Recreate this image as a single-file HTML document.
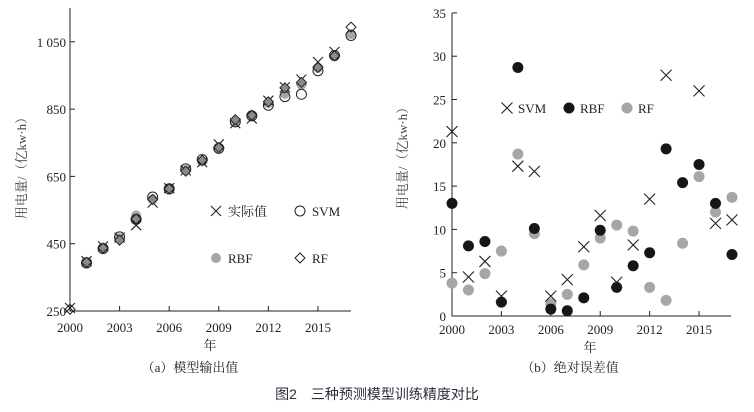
<!DOCTYPE html><html><head><meta charset="utf-8"><style>body{margin:0;background:#fff}svg{display:block}</style></head><body>
<svg id="s" width="754" height="412" xmlns="http://www.w3.org/2000/svg" font-family="Liberation Serif, Noto Serif CJK SC, serif" font-size="13" fill="#222"></svg>
<script>
const s=document.getElementById('s');let h='';
const act=[259,398,442,468,505,572,615,668,692,745,808,822,875,915,938,990,1020,1080];
const eS=[21.3,4.5,6.3,2.3,17.3,16.7,2.3,4.2,8,11.6,3.9,8.2,13.5,27.8,44,26,10.7,11.1];
const eR=[13,8.1,8.6,1.6,28.7,10.1,0.8,0.6,2.1,9.9,3.3,5.8,7.3,19.3,15.4,17.5,13,7.1];
const eF=[3.8,3,4.9,7.5,18.7,9.5,1.4,2.5,5.9,9,10.5,9.8,3.3,1.8,8.4,16.1,12,13.7];
const sgS=[-1,-1,-1,1,1,1,-1,1,1,-1,1,1,-1,-1,-1,-1,-1,-1];
const sgR=[-1,-1,-1,-1,1,1,1,1,1,-1,1,1,-1,-1,-1,-1,-1,-1];
const sgF=[-1,-1,-1,-1,1,1,-1,-1,1,-1,1,1,-1,-1,-1,-1,-1,1];
function X(x,y,r){return `<path d="M${x-r} ${y-r}L${x+r} ${y+r}M${x-r} ${y+r}L${x+r} ${y-r}" stroke="#222" stroke-width="1.1"/>`}
function C(x,y,r,f,st){return `<circle cx="${x}" cy="${y}" r="${r}" fill="${f}" ${st?'stroke="#222" stroke-width="1"':''}/>`}
function D(x,y,r,f){return `<path d="M${x} ${y-r}L${x+r} ${y}L${x} ${y+r}L${x-r} ${y}Z" fill="${f||'none'}" stroke="#222" stroke-width="1"/>`}
const lx=y=>70+(y-2000)*16.53, ly=v=>311-(v-250)*67.3/200;
h+=`<path d="M70 8V311H351" stroke="#222" fill="none"/>`;
[250,450,650,850,1050].forEach(v=>{let y=ly(v);h+=`<line x1="70" x2="75" y1="${y}" y2="${y}" stroke="#222"/><text x="66" y="${y+5}" text-anchor="end">${v==1050?'1 050':v}</text>`});
for(let yr=2000;yr<=2015;yr+=3){let x=lx(yr);h+=`<line x1="${x}" x2="${x}" y1="311" y2="306" stroke="#222"/><text x="${x}" y="332" text-anchor="middle">${yr}</text>`}
for(let i=0;i<18;i++){let x=lx(2000+i);
 if(i>0)h+=C(x,ly(act[i]+sgR[i]*eR[i]),5,'#a6a6a6');
 if(i>0)h+=C(x,ly(act[i]+sgS[i]*eS[i]),5,'none',1);
 if(i<17)h+=X(x,ly(act[i]),5);
 h+=D(x,ly(act[i]+sgF[i]*eF[i]),5,(i>0&&i<17)?'#8a8a8a':'none');}
h+=X(216,211,5)+`<text x="228" y="216">实际值</text>`+C(300,211,5,'none',1)+`<text x="312" y="216">SVM</text>`;
h+=C(216,258,5,'#a6a6a6')+`<text x="228" y="263">RBF</text>`+D(300,258,5)+`<text x="312" y="263">RF</text>`;
h+=`<text transform="translate(26,165) rotate(-90)" text-anchor="middle" fill="#444">用电量/（亿kw·h）</text>`;
h+=`<text x="210" y="350" text-anchor="middle">年</text><text x="190" y="372" text-anchor="middle">（a）模型输出值</text>`;
const rx=y=>452+(y-2000)*16.47, ry=v=>316-v*8.66;
h+=`<path d="M452 13V316H731" stroke="#222" fill="none"/>`;
for(let v=0;v<=35;v+=5){let y=ry(v);h+=`<line x1="452" x2="457" y1="${y}" y2="${y}" stroke="#222"/><text x="446" y="${y+5}" text-anchor="end">${v}</text>`}
for(let yr=2000;yr<=2015;yr+=3){let x=rx(yr);h+=`<line x1="${x}" x2="${x}" y1="316" y2="311" stroke="#222"/><text x="${x}" y="334" text-anchor="middle">${yr}</text>`}
for(let i=0;i<18;i++){let x=rx(2000+i);
 h+=C(x,ry(eF[i]),5.5,'#a6a6a6');h+=C(x,ry(eR[i]),5.5,'#1a1414');if(eS[i]<35)h+=X(x,ry(eS[i]),5.5);}
h+=X(507,108,5.5)+`<text x="518" y="113">SVM</text>`+C(569,108,5.5,'#1a1414')+`<text x="580" y="113">RBF</text>`+C(627,108,5.5,'#a6a6a6')+`<text x="638" y="113">RF</text>`;
h+=`<text transform="translate(407,155) rotate(-90)" text-anchor="middle" fill="#444">用电量/（亿kw·h）</text>`;
h+=`<text x="590" y="352" text-anchor="middle">年</text><text x="570" y="372" text-anchor="middle">（b）绝对误差值</text>`;
h+=`<text x="377" y="399" text-anchor="middle" font-family="Liberation Sans, Noto Sans CJK SC, sans-serif" font-size="14" fill="#2a2f3a">图2　三种预测模型训练精度对比</text>`;
s.innerHTML=h;
</script></body></html>
